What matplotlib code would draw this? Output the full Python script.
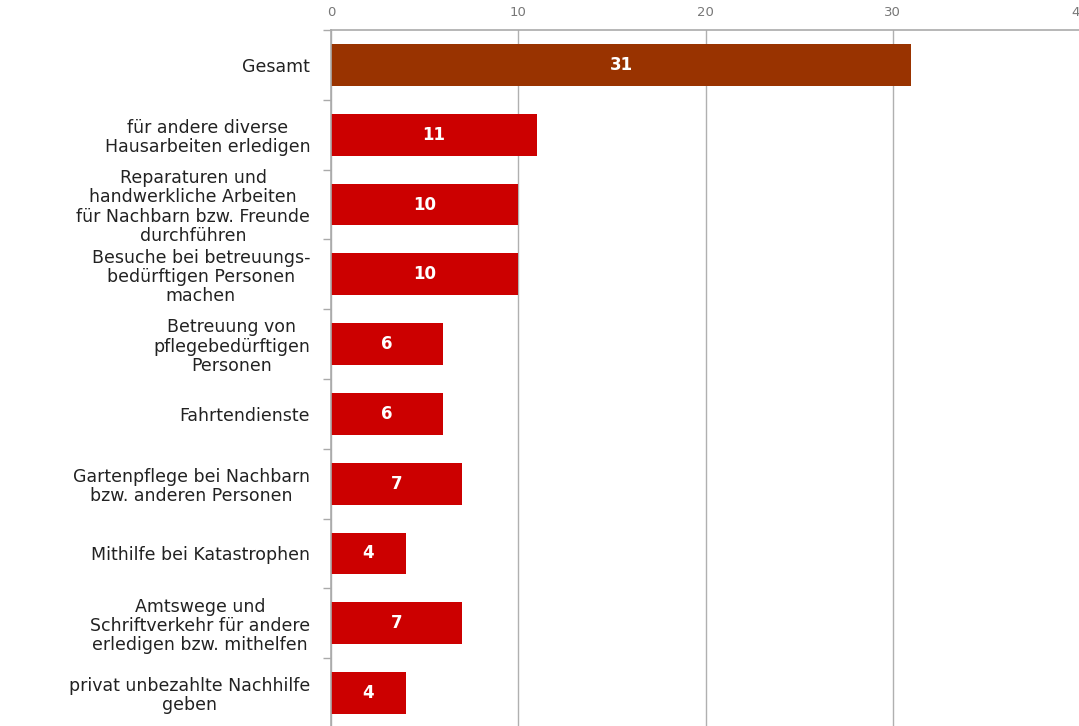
import numpy as np
import matplotlib.pyplot as plt

categories = [
    "Gesamt",
    "für andere diverse\nHausarbeiten erledigen",
    "Reparaturen und\nhandwerkliche Arbeiten\nfür Nachbarn bzw. Freunde\ndurchführen",
    "Besuche bei betreuungs-\nbedürftigen Personen\nmachen",
    "Betreuung von\npflegebedürftigen\nPersonen",
    "Fahrtendienste",
    "Gartenpflege bei Nachbarn\nbzw. anderen Personen",
    "Mithilfe bei Katastrophen",
    "Amtswege und\nSchriftverkehr für andere\nerledigen bzw. mithelfen",
    "privat unbezahlte Nachhilfe\ngeben",
]
values = [31, 11, 10, 10, 6, 6, 7, 4, 7, 4]
colors = ["#993300"] + ["#CC0000"] * 9
xticks = [0, 10, 20, 30, 40]

fig = plt.figure(figsize=(10.79, 7.26), dpi=100)
ax = fig.add_axes([331 / 1079, -2 / 726, 749 / 1079, 698 / 726])

y = np.arange(len(categories))
ax.barh(y, values, height=0.6, color=colors, zorder=3)
for yi, v in zip(y, values):
    ax.text(v / 2, yi, str(v), ha="center", va="center", color="white",
            fontsize=12, fontweight="bold", zorder=4)

ax.set_ylim(len(categories) - 0.5, -0.5)
ax.set_xlim(0, 40)

ax.set_yticks(y)
ax.set_yticklabels(categories, fontsize=12.5, color="#222222",
                   multialignment="center", linespacing=1.1)
ax.tick_params(axis="y", which="major", length=0, pad=15)
ax.set_yticks(np.arange(len(categories) + 1) - 0.5, minor=True)
ax.tick_params(axis="y", which="minor", length=6, color="#aaaaaa", width=1)

ax.xaxis.tick_top()
ax.set_xticks(xticks)
ax.set_xticklabels([str(t) for t in xticks], fontsize=9.5, color="#777777")
ax.tick_params(axis="x", length=0, pad=8)
ax.grid(axis="x", color="#b0b0b0", linewidth=1, zorder=0)

for side in ["right", "bottom"]:
    ax.spines[side].set_visible(False)
for side in ["top", "left"]:
    ax.spines[side].set_color("#aaaaaa")
    ax.spines[side].set_linewidth(1.2)
    ax.spines[side].set_zorder(5)

fig.savefig("out.png", dpi=100)
